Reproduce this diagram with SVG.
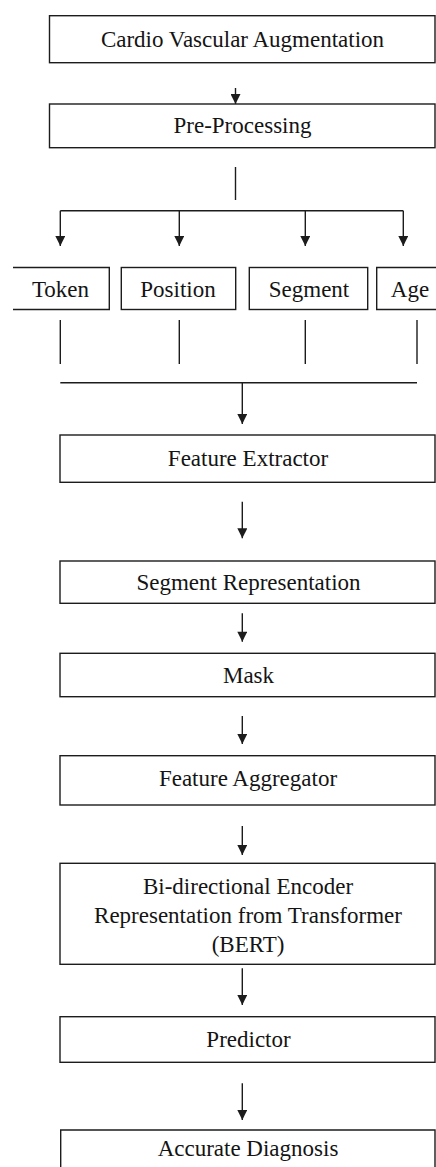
<svg xmlns="http://www.w3.org/2000/svg" width="436" height="1167" viewBox="0 0 436 1167">
  <style>
    .box { fill: #ffffff; stroke: #1c1c1c; stroke-width: 1.4; }
    .open { fill: none; stroke: #1c1c1c; stroke-width: 1.4; }
    .lbl { font-family: "Liberation Serif", "Times New Roman", serif; font-size: 23px; fill: #141414; text-anchor: middle; }
    .wire { fill: none; stroke: #1c1c1c; stroke-width: 1.4; }
    .arrow { fill: none; stroke: #1c1c1c; stroke-width: 1.4; marker-end: url(#head); }
  </style>
  <defs>
    <marker id="head" viewBox="0 0 10 10" refX="10" refY="5" markerUnits="userSpaceOnUse" markerWidth="11" markerHeight="10" orient="auto">
      <path d="M0,0 L10,5 L0,10 z" fill="#1c1c1c"/>
    </marker>
  </defs>
  <rect width="436" height="1167" fill="#ffffff"/>

  <!-- connectors -->
  <g id="connectors">
    <line class="arrow" x1="235.5" y1="88" x2="235.5" y2="104"/>
    <line class="wire" x1="235.5" y1="167" x2="235.5" y2="200"/>
    <line class="wire" x1="60.3" y1="210.7" x2="403.3" y2="210.7"/>
    <line class="arrow" x1="60.3" y1="210.7" x2="60.3" y2="246"/>
    <line class="arrow" x1="179.3" y1="210.7" x2="179.3" y2="246"/>
    <line class="arrow" x1="305.3" y1="210.7" x2="305.3" y2="246"/>
    <line class="arrow" x1="403.3" y1="210.7" x2="403.3" y2="246"/>
    <line class="wire" x1="60.3" y1="320" x2="60.3" y2="364"/>
    <line class="wire" x1="179.3" y1="320" x2="179.3" y2="364"/>
    <line class="wire" x1="305.3" y1="320" x2="305.3" y2="364"/>
    <line class="wire" x1="417" y1="320" x2="417" y2="364"/>
    <line class="wire" x1="60.3" y1="382.7" x2="417" y2="382.7"/>
    <line class="arrow" x1="242.3" y1="382.7" x2="242.3" y2="424"/>
    <line class="arrow" x1="242.3" y1="501.7" x2="242.3" y2="538.3"/>
    <line class="arrow" x1="242.3" y1="613.3" x2="242.3" y2="641.7"/>
    <line class="arrow" x1="242.3" y1="716" x2="242.3" y2="744"/>
    <line class="arrow" x1="242.3" y1="826" x2="242.3" y2="855"/>
    <line class="arrow" x1="242.3" y1="968.3" x2="242.3" y2="1005"/>
    <line class="arrow" x1="242.3" y1="1083.3" x2="242.3" y2="1120"/>
  </g>

  <g id="cardio-vascular-augmentation">
    <rect class="box" x="49.5" y="15.7" width="385.5" height="47"/>
    <text class="lbl" x="242.5" y="46.5">Cardio Vascular Augmentation</text>
  </g>

  <g id="pre-processing">
    <rect class="box" x="49.5" y="104" width="385.5" height="43.7"/>
    <text class="lbl" x="242.5" y="133">Pre-Processing</text>
  </g>

  <g id="token">
    <path class="open" d="M13,267.5 H109.3 V309.5 H13"/>
    <text class="lbl" x="60.5" y="296.5">Token</text>
  </g>

  <g id="position">
    <rect class="box" x="121.3" y="267.5" width="114.4" height="42"/>
    <text class="lbl" x="178" y="296.5">Position</text>
  </g>

  <g id="segment">
    <rect class="box" x="249.3" y="267.5" width="118.4" height="42"/>
    <text class="lbl" x="309" y="296.5">Segment</text>
  </g>

  <g id="age">
    <path class="open" d="M437,267.5 H376.7 V309.5 H437"/>
    <text class="lbl" x="410" y="296.5">Age</text>
  </g>

  <g id="feature-extractor">
    <rect class="box" x="60" y="435" width="375" height="47.3"/>
    <text class="lbl" x="248" y="465.5">Feature Extractor</text>
  </g>

  <g id="segment-representation">
    <rect class="box" x="60" y="561" width="375" height="42.3"/>
    <text class="lbl" x="248.5" y="590">Segment Representation</text>
  </g>

  <g id="mask">
    <rect class="box" x="60" y="653.3" width="375" height="43.4"/>
    <text class="lbl" x="248.5" y="683">Mask</text>
  </g>

  <g id="feature-aggregator">
    <rect class="box" x="60" y="755.7" width="375" height="49.3"/>
    <text class="lbl" x="248" y="785.5">Feature Aggregator</text>
  </g>

  <g id="bert">
    <rect class="box" x="60" y="863.3" width="375" height="101"/>
    <text class="lbl" x="248" y="894">Bi-directional Encoder</text>
    <text class="lbl" x="248" y="923">Representation from Transformer</text>
    <text class="lbl" x="248" y="951.5">(BERT)</text>
  </g>

  <g id="predictor">
    <rect class="box" x="60" y="1016.7" width="375" height="45.6"/>
    <text class="lbl" x="248.5" y="1047">Predictor</text>
  </g>

  <g id="accurate-diagnosis">
    <path class="open" d="M60.7,1168 V1130 H435 V1168"/>
    <text class="lbl" x="248" y="1155.5">Accurate Diagnosis</text>
  </g>
</svg>
